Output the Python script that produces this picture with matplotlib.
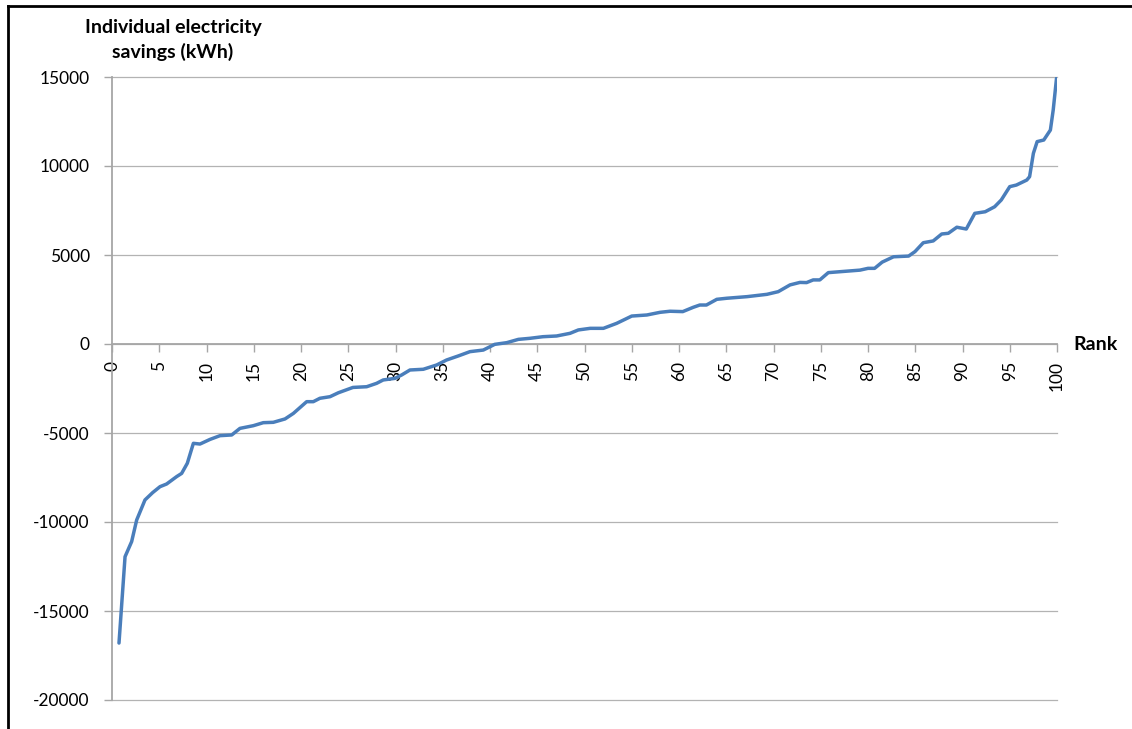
import matplotlib
matplotlib.use("Agg")
import matplotlib.pyplot as plt
from matplotlib.lines import Line2D

plt.rcParams['font.family'] = ['Lato', 'DejaVu Sans']
plt.rcParams['axes.unicode_minus'] = False

# rank position and savings
rank = [0.74, 1.38, 2.08, 2.61, 3.49, 4.3, 5.08, 5.78, 6.84, 7.37, 7.97, 8.61, 9.31,
        10.37, 11.43, 12.67, 13.54, 14.95, 16.01, 17.07, 18.31, 19.19, 20.6, 21.3,
        22.0, 23.07, 23.95, 25.5, 26.95, 28.0, 28.7, 29.95, 30.65, 31.53, 32.94,
        34.35, 35.4, 36.65, 37.88, 39.29, 40.5, 41.77, 43.0, 44.23, 45.6, 47.05,
        48.47, 49.35, 50.6, 52.0, 53.4, 54.3, 55.0, 56.6, 58.0, 59.05, 60.4, 61.5,
        62.2, 62.9, 64.0, 65.05, 67.2, 69.3, 70.5, 71.75, 72.8, 73.5, 74.2, 74.9,
        75.8, 77.0, 79.15, 80.0, 80.7, 81.5, 82.7, 84.3, 84.97, 85.85, 86.9, 87.8,
        88.5, 89.4, 90.4, 91.3, 92.4, 93.4, 94.1, 95.0, 95.7, 96.8, 97.1, 97.5,
        97.9, 98.6, 99.3, 99.6, 99.95]
savings = [-16800, -11950, -11100, -9890, -8760, -8350, -8015, -7865, -7450, -7270,
           -6700, -5580, -5620, -5360, -5150, -5110, -4740, -4590, -4420, -4400,
           -4210, -3900, -3240, -3240, -3050, -2960, -2740, -2440, -2400, -2210,
           -2020, -1930, -1740, -1460, -1420, -1180, -900, -670, -430, -340, -20,
           75, 260, 320, 410, 450, 600, 790, 880, 880, 1160, 1390, 1570, 1630, 1780,
           1840, 1820, 2060, 2190, 2190, 2510, 2570, 2660, 2790, 2940, 3320, 3460,
           3450, 3600, 3600, 4010, 4060, 4150, 4250, 4250, 4600, 4900, 4940, 5190,
           5690, 5790, 6180, 6220, 6560, 6460, 7340, 7430, 7710, 8090, 8840, 8930,
           9210, 9400, 10710, 11370, 11460, 12020, 13150, 14930]

x_ticks = list(range(0, 101, 5))
y_ticks = list(range(-20000, 15001, 5000))

fig = plt.figure(figsize=(11.32, 7.29), dpi=100)
ax = fig.add_axes([112 / 1132, 29 / 729, 945 / 1132, 623 / 729])

ax.plot(rank, savings, color='#4a7ebb', linewidth=2.5, solid_joinstyle='round',
        solid_capstyle='round', zorder=3)

ax.set_xlim(0, 100)
ax.set_ylim(-20000, 15000)
ax.set_yticks(y_ticks)
ax.set_xticks(x_ticks)
ax.yaxis.grid(True, color='#b3b3b3', linewidth=0.9)
ax.set_axisbelow(True)
for gl in ax.get_ygridlines():
    gl.set_clip_on(False)

for s in ['top', 'right']:
    ax.spines[s].set_visible(False)
ax.spines['left'].set_color('#a6a6a6')
ax.spines['left'].set_linewidth(1.3)
ax.spines['bottom'].set_position(('data', 0))
ax.spines['bottom'].set_color('#a6a6a6')
ax.spines['bottom'].set_linewidth(1.3)

ax.tick_params(axis='y', colors='#a6a6a6', labelcolor='black', labelsize=12.5,
               length=6, width=1.0, pad=10)
ax.tick_params(axis='x', colors='#a6a6a6', labelcolor='black', labelsize=12.5,
               length=6, width=1.0, pad=6, labelrotation=90)

fig.text(173 / 1132, 1 - 40 / 729, 'Individual electricity\nsavings (kWh)',
         ha='center', va='center', fontsize=14, fontweight='bold', linespacing=1.5)
fig.text(1073 / 1132, 1 - 345 / 729, 'Rank', ha='left', va='center',
         fontsize=14, fontweight='bold')

# outer frame lines on left and top
fig.add_artist(Line2D([8 / 1132, 8 / 1132], [0, 1 - 6 / 729], transform=fig.transFigure,
                      color='black', linewidth=2))
fig.add_artist(Line2D([8 / 1132, 1], [1 - 6 / 729, 1 - 6 / 729], transform=fig.transFigure,
                      color='black', linewidth=2))

fig.savefig('out.png', dpi=100)
